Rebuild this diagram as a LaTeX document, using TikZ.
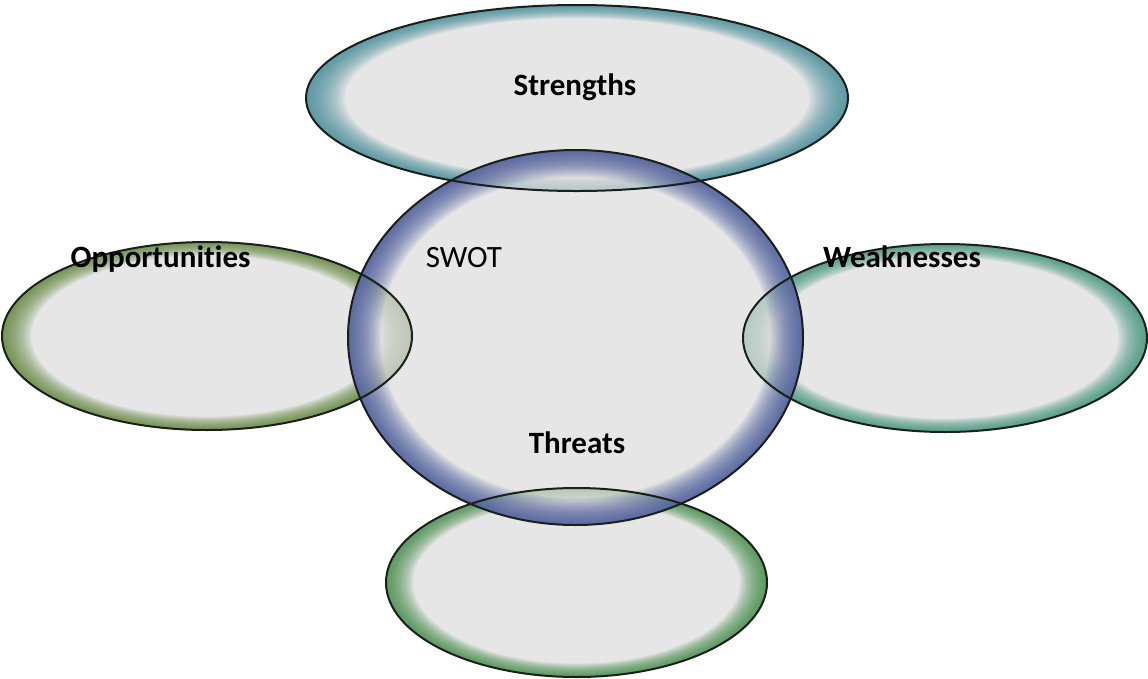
\documentclass[tikz,border=0pt]{standalone}
\usepackage{fontspec}
\setmainfont{Carlito}[Ligatures=NoCommon]
\definecolor{swotfill}{HTML}{DCDCDC}
\definecolor{cStr}{HTML}{3F8A98}
\definecolor{cOpp}{HTML}{5E8436}
\definecolor{cWeak}{HTML}{3A9278}
\definecolor{cThr}{HTML}{3E8A44}
\definecolor{cCen}{HTML}{3E5096}
\definecolor{edgeline}{HTML}{1A1F1A}
\newcommand\swotsoft[5]{%
  \fill[swotfill, fill opacity=0.72] (#1,#2) ellipse [x radius=#3, y radius=#4];
  \foreach \i in {1,...,22}{%
    \pgfmathsetmacro\swotscale{1-0.0065*\i}%
    \fill[#5, fill opacity=0.068, even odd rule]
      (#1,#2) ellipse [x radius=#3, y radius=#4]
      (#1,#2) ellipse [x radius=\swotscale*#3, y radius=\swotscale*#4];
  }%
}
\newcommand\swotline[4]{%
  \draw[edgeline, line width=2pt] (#1,#2) ellipse [x radius=#3, y radius=#4];
}
\begin{document}
\begin{tikzpicture}[x=1pt,y=-1pt,
  lbl/.style={font=\fontsize{31}{36}\selectfont\bfseries, text=black, anchor=base, inner sep=0pt},
  plainlbl/.style={font=\fontsize{31}{36}\selectfont, text=black, anchor=base, inner sep=0pt}]
\useasboundingbox (0,0) rectangle (1148,678);
% soft-edged ellipses
\swotsoft{207}{336}{205}{94}{cOpp}
\swotsoft{945}{338}{202}{94}{cWeak}
\swotsoft{577}{98}{271}{93}{cStr}
\swotsoft{576.5}{582.5}{190.5}{94.5}{cThr}
\swotsoft{575.5}{337.5}{227.5}{187.5}{cCen}
% outlines
\swotline{207}{336}{205}{94}
\swotline{945}{338}{202}{94}
\swotline{577}{98}{271}{93}
\swotline{576.5}{582.5}{190.5}{94.5}
\swotline{575.5}{337.5}{227.5}{187.5}
% labels
\node[lbl] (str) at (575,95) {Strengths};
\node[lbl] (opp) at (160.5,267) {Opportunities};
\node[lbl] (weak) at (902,267) {Weaknesses};
\node[lbl] (thr) at (577,453) {Threats};
\node[plainlbl] (swot) at (464,267) {SWOT};
\end{tikzpicture}
\end{document}
